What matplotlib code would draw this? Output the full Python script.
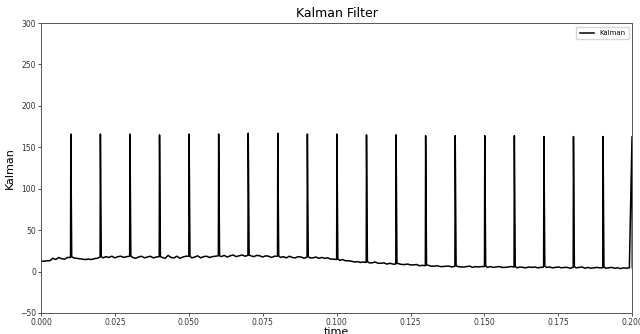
import numpy as np
import matplotlib
matplotlib.use("Agg")
import matplotlib.pyplot as plt

# Baseline of the filtered signal, sampled every 1 ms from 0.000 to 0.200 s
base_t = [i / 1000 for i in range(201)]
base_v = [
    12.5, 12.5, 13.0, 13.0, 16.0, 14.5, 17.0, 15.5, 15.0, 17.0,   # 0.000-0.009
    17.0, 16.5, 16.0, 15.5, 15.0, 14.5, 15.0, 14.5, 15.5, 16.0,   # 0.010-0.019
    17.5, 16.5, 18.0, 17.0, 18.5, 16.5, 18.0, 18.5, 17.0, 18.0,   # 0.020-0.029
    18.5, 17.0, 16.0, 17.5, 18.5, 16.5, 17.5, 18.5, 16.5, 17.5,   # 0.030-0.039
    18.0, 17.0, 16.0, 19.5, 17.0, 16.5, 18.5, 16.0, 17.5, 18.5,   # 0.040-0.049
    18.5, 16.5, 17.5, 19.0, 16.5, 18.0, 18.5, 17.0, 18.0, 18.5,   # 0.050-0.059
    19.0, 18.0, 19.5, 17.5, 19.0, 20.0, 18.0, 19.0, 20.0, 18.5,   # 0.060-0.069
    19.5, 19.0, 18.0, 19.5, 19.0, 17.5, 19.0, 18.5, 17.0, 18.5,   # 0.070-0.079
    18.5, 17.0, 18.0, 16.5, 18.5, 17.0, 16.5, 18.0, 17.5, 16.0,   # 0.080-0.089
    17.5, 16.5, 16.5, 17.5, 16.0, 17.0, 16.0, 16.5, 15.0, 15.0,   # 0.090-0.099
    14.5, 13.5, 14.5, 13.0, 13.0, 12.5, 11.5, 12.0, 11.0, 11.5,   # 0.100-0.109
    11.0, 10.5, 10.5, 11.5, 10.0, 10.0, 10.5, 9.0, 10.0, 9.0,     # 0.110-0.119
    9.0, 9.5, 8.5, 8.5, 9.0, 8.0, 8.0, 8.5, 7.0, 7.5,             # 0.120-0.129
    7.0, 7.5, 6.5, 6.5, 7.0, 6.0, 6.0, 6.5, 6.5, 5.5,             # 0.130-0.139
    6.5, 6.0, 5.5, 5.5, 6.0, 6.5, 5.0, 6.0, 5.5, 6.0,             # 0.140-0.149
    6.0, 5.0, 6.0, 5.0, 5.5, 6.0, 5.0, 5.0, 5.5, 6.0,             # 0.150-0.159
    5.5, 4.5, 5.5, 5.0, 4.5, 5.5, 5.0, 5.5, 4.5, 5.0,             # 0.160-0.169
    5.5, 5.0, 5.5, 4.5, 5.0, 5.5, 4.5, 5.0, 5.0, 4.0,             # 0.170-0.179
    5.0, 4.5, 5.0, 5.5, 4.0, 5.0, 4.0, 4.5, 5.0, 4.5,             # 0.180-0.189
    4.5, 4.0, 4.5, 5.0, 4.0, 4.5, 3.5, 4.5, 4.0, 4.5,             # 0.190-0.199
    4.5,                                                          # 0.200
]

# Spike peaks (every 10 ms) and the points where each spike returns to baseline
spike_t = [0.0101, 0.0201, 0.0301, 0.0401, 0.0501, 0.0601, 0.0701,
           0.0801, 0.0901, 0.1001, 0.1101, 0.1201, 0.1301, 0.1401,
           0.1501, 0.1601, 0.1701, 0.1801, 0.1901, 0.1999]
spike_v = [166, 166, 166, 165, 166, 166, 167, 167, 166, 166,
           165, 165, 164, 164, 164, 164, 163, 163, 163, 163]
foot_t = [0.0104, 0.0204, 0.0304, 0.0404, 0.0504, 0.0604, 0.0704,
          0.0804, 0.0904, 0.1004, 0.1104, 0.1204, 0.1304, 0.1404,
          0.1504, 0.1604, 0.1704, 0.1804, 0.1904]
foot_v = [18.0, 18.0, 19.0, 18.0, 18.5, 19.0, 20.0, 19.0, 18.0, 15.5,
          12.0, 10.0, 8.0, 7.0, 7.0, 6.0, 6.5, 6.0, 5.5]

# Merge baseline samples, spike peaks and spike feet into one series ordered by time
t = np.array(base_t + spike_t + foot_t)
v = np.array(base_v + spike_v + foot_v)
order = np.argsort(t, kind="stable")
t, v = t[order], v[order]

fig = plt.figure(figsize=(6.4, 3.34), dpi=100)
ax = fig.add_axes([0.064, 0.063, 0.924, 0.868])
ax.plot(t, v, color="black", linewidth=1.1, label="Kalman")
ax.set_xlim(0.0, 0.2)
ax.set_ylim(-50, 300)
ax.set_xticks([0.0, 0.025, 0.05, 0.075, 0.1, 0.125, 0.15, 0.175, 0.2])
ax.set_xticklabels(["0.000", "0.025", "0.050", "0.075", "0.100",
                    "0.125", "0.150", "0.175", "0.200"])
ax.set_yticks([-50, 0, 50, 100, 150, 200, 250, 300])
ax.tick_params(labelsize=5.5, length=2, width=0.6, pad=1.5, colors="#333333")
for s in ax.spines.values():
    s.set_linewidth(0.7)
    s.set_color("#555555")
ax.set_title("Kalman Filter", fontsize=9, pad=4)
ax.set_xlabel("time", fontsize=8, labelpad=0)
ax.set_ylabel("Kalman", fontsize=8, labelpad=4)
ax.legend(loc="upper right", fontsize=5, handlelength=2, frameon=True,
          borderpad=0.5, fancybox=True)
fig.savefig("out.png", dpi=100)
